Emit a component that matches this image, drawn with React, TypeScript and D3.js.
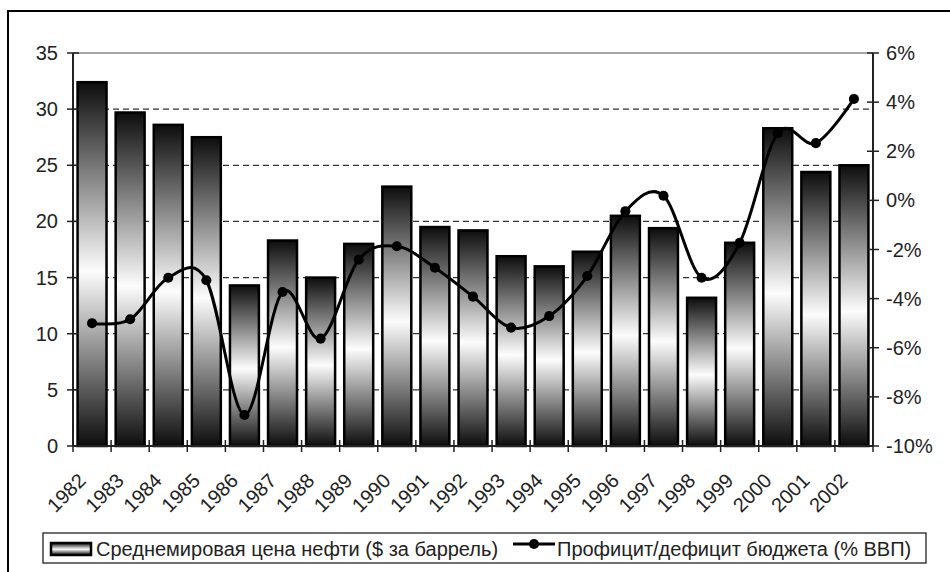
import * as d3 from 'd3';

const years = ['1982', '1983', '1984', '1985', '1986', '1987', '1988', '1989', '1990', '1991', '1992', '1993', '1994', '1995', '1996', '1997', '1998', '1999', '2000', '2001', '2002'];
const oilPrice = [32.4, 29.7, 28.6, 27.5, 14.3, 18.3, 15.0, 18.0, 23.1, 19.5, 19.2, 16.9, 16.0, 17.3, 20.5, 19.4, 13.2, 18.1, 28.3, 24.4, 25.0];
const budget = [-5.0, -4.84, -3.15, -3.25, -8.74, -3.73, -5.63, -2.41, -1.87, -2.74, -3.92, -5.18, -4.71, -3.08, -0.44, 0.19, -3.15, -1.73, 2.74, 2.33, 4.13];
const leftTicks = [0, 5, 10, 15, 20, 25, 30, 35];
const rightTicks = [-10, -8, -6, -4, -2, 0, 2, 4, 6];
const barLabel = 'Среднемировая цена нефти ($ за баррель)';
const lineLabel = 'Профицит/дефицит бюджета (% ВВП)';

const W = 950;
const H = 572;
const left = 73;
const right = 873;
const top = 53;
const bottom = 446;
const font = 'Arial, "Liberation Sans", sans-serif';
const fs = 20;

export default function App() {
  const x = d3.scaleBand<string>().domain(years).range([left, right]).paddingInner(0.24).paddingOuter(0.12);
  const step = x.step();
  const yL = d3.scaleLinear().domain([0, 35]).range([bottom, top]);
  const yR = d3.scaleLinear().domain([-10, 6]).range([bottom, top]);
  const cx = (d: string) => (x(d) ?? 0) + x.bandwidth() / 2;

  const line = d3
    .line<number>()
    .x((_, i) => cx(years[i]))
    .y((d) => yR(d))
    .curve(d3.curveCatmullRom.alpha(0));

  const marker = d3.symbol().type(d3.symbolCircle).size(80);

  return (
    <svg width={W} height={H} style={{ position: 'absolute', left: 0, top: 0, background: '#fff' }}>
      <defs>
        <linearGradient id="barGrad" x1="0" y1="0" x2="0" y2="1">
          <stop offset="0" stopColor="#0d0d0d" />
          <stop offset="0.52" stopColor="#fcfcfc" />
          <stop offset="1" stopColor="#0d0d0d" />
        </linearGradient>
      </defs>
      <rect x={8} y={11} width={1000} height={700} fill="#fff" stroke="#000" strokeWidth={2} />

      {/* gridlines */}
      {leftTicks.slice(1, -1).map((t) => (
        <line key={t} x1={left} x2={right} y1={yL(t)} y2={yL(t)} stroke="#333" strokeWidth={1.3} strokeDasharray="6 4" />
      ))}
      <line x1={left} x2={right} y1={top} y2={top} stroke="#888" strokeWidth={1.5} />

      {/* bars */}
      {years.map((d, i) => (
        <rect
          key={d}
          x={x(d)}
          y={yL(oilPrice[i])}
          width={x.bandwidth()}
          height={bottom - yL(oilPrice[i])}
          fill="url(#barGrad)"
          stroke="#000"
          strokeWidth={2.5}
        />
      ))}

      {/* axes */}
      <line x1={left} x2={left} y1={top} y2={bottom} stroke="#222" strokeWidth={2} />
      <line x1={right} x2={right} y1={top} y2={bottom} stroke="#222" strokeWidth={2} />
      <line x1={left} x2={right} y1={bottom} y2={bottom} stroke="#222" strokeWidth={2} />
      {leftTicks.map((t) => (
        <g key={t}>
          <line x1={left - 6} x2={left + 6} y1={yL(t)} y2={yL(t)} stroke="#222" strokeWidth={1.5} />
          <text x={left - 15} y={yL(t)} dy="0.35em" textAnchor="end" fontFamily={font} fontSize={fs} fill="#222">
            {t}
          </text>
        </g>
      ))}
      {rightTicks.map((t) => (
        <g key={t}>
          <line x1={right - 6} x2={right + 6} y1={yR(t)} y2={yR(t)} stroke="#222" strokeWidth={1.5} />
          <text x={right + 13} y={yR(t)} dy="0.35em" textAnchor="start" fontFamily={font} fontSize={fs} fill="#222">
            {t}%
          </text>
        </g>
      ))}
      {d3.range(years.length + 1).map((i) => (
        <line key={i} x1={left + i * step} x2={left + i * step} y1={bottom - 6} y2={bottom + 6} stroke="#222" strokeWidth={1.5} />
      ))}
      {years.map((d) => (
        <text
          key={d}
          transform={`translate(${cx(d) - 5},${482}) rotate(-45)`}
          textAnchor="end"
          fontFamily={font}
          fontSize={fs}
          fill="#222"
        >
          {d}
        </text>
      ))}

      {/* line series */}
      <path d={line(budget) ?? ''} fill="none" stroke="#000" strokeWidth={3} />
      {budget.map((v, i) => (
        <path key={i} d={marker() ?? ''} transform={`translate(${cx(years[i])},${yR(v)})`} fill="#000" />
      ))}

      {/* legend */}
      <rect x={43} y={533} width={883} height={30} fill="#fff" stroke="#222" strokeWidth={1.3} />
      <rect x={51} y={543} width={40} height={12} fill="url(#barGrad)" stroke="#000" strokeWidth={2.5} />
      <text x={96} y={549} dy="0.35em" fontFamily={font} fontSize={fs} fill="#222">
        {barLabel}
      </text>
      <line x1={513} x2={555} y1={544} y2={544} stroke="#000" strokeWidth={3} />
      <path d={marker() ?? ''} transform="translate(534,544)" fill="#000" />
      <text x={557} y={549} dy="0.35em" fontFamily={font} fontSize={fs} fill="#222">
        {lineLabel}
      </text>
    </svg>
  );
}
